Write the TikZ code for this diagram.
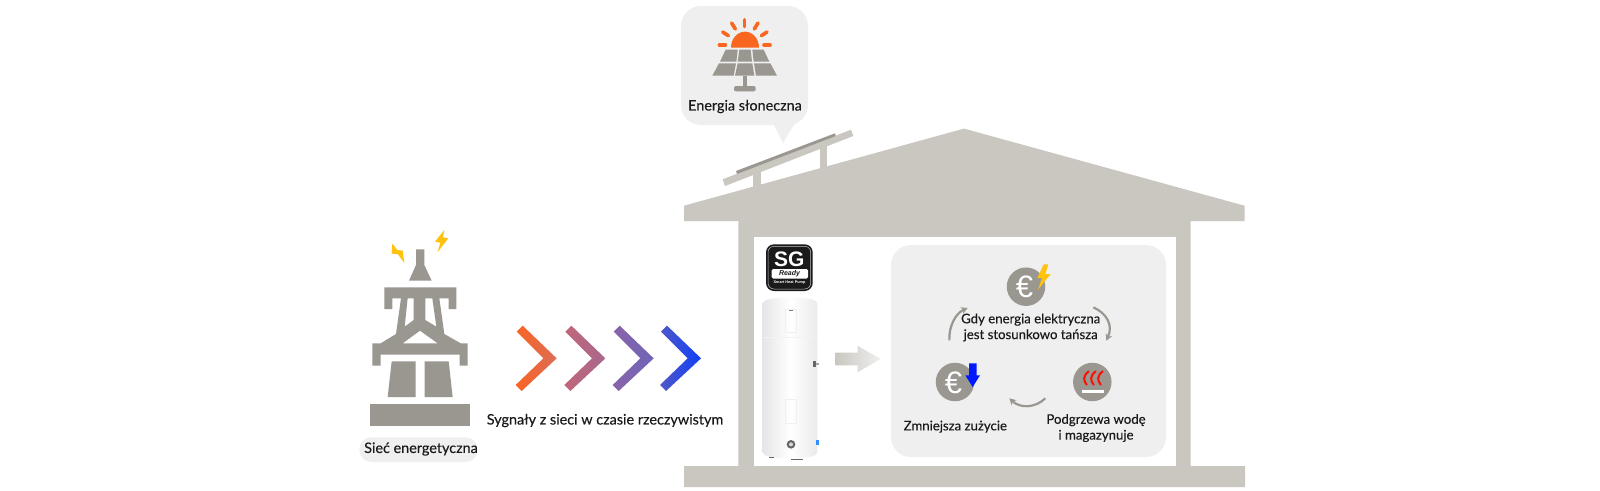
\documentclass[tikz,border=0pt]{standalone}
\usepackage{fontspec}
\setmainfont{Lato}
\newfontfamily\labelfont[FakeBold=0.25]{Lato}
\newfontfamily\heavyfont{Liberation Sans}
\usetikzlibrary{arrows.meta,calc}
\definecolor{house}{HTML}{CAC7C1}
\definecolor{metal}{HTML}{9A9791}
\definecolor{bubble}{HTML}{EFEFEF}
\definecolor{sun}{HTML}{F9661F}
\definecolor{bolt}{HTML}{FFC20E}
\definecolor{ink}{HTML}{1A1A1A}
\definecolor{chevA}{HTML}{FA6422}
\definecolor{chevB}{HTML}{DB6E58}
\definecolor{chevC}{HTML}{C0667A}
\definecolor{chevD}{HTML}{A8698C}
\definecolor{chevE}{HTML}{8A64A8}
\definecolor{chevF}{HTML}{6E64B8}
\definecolor{chevG}{HTML}{5058C8}
\definecolor{chevH}{HTML}{1040F5}
\tikzset{
  label text/.style={font=\labelfont\fontsize{14.4}{15.8}\selectfont,text=ink,align=center,inner sep=0pt},
  panel text/.style={label text,font=\labelfont\fontsize{13.2}{15.8}\selectfont},
  icon disc/.style={circle,fill=metal,minimum size=38.5pt,inner sep=0pt},
  euro sign/.style={font=\heavyfont\fontsize{31}{31}\selectfont,text=white,inner sep=0pt},
  loop arrow/.style={draw=metal,line width=2.2pt,-{Stealth[length=6.5pt,width=7pt,inset=2pt]}},
  ray/.style={draw=sun,line width=3.6pt,line cap=round},
  tiny3/.style={x=0.33333pt,y=-0.33333pt},
}
\newcommand{\chevron}[3]{%
  \path[left color=#2,right color=#3] (#1+128,47) -- (#1+230,145) -- (#1+125,243) -- (#1+107,225)
    -- (#1+190,145) -- (#1+110,65) -- cycle;}
\begin{document}
\begin{tikzpicture}[x=1pt,y=-1pt]
\useasboundingbox (0,0) rectangle (1600,490);
\fill[white] (0,0) rectangle (1600,490);

% House silhouette
\fill[house] (964,128.6) -- (1244.5,205.7) -- (1244.5,221) -- (1190.7,221) -- (1190.7,466) -- (1245,466) -- (1245,487)
  -- (684,487) -- (684,466) -- (738.3,466) -- (738.3,221) -- (684,221) -- (684,205.7) -- cycle;
\fill[white] (754,236.5) rectangle (1175.7,466);

% Roof-mounted panel frame
\fill[house] (722.7,179.3) -- (851,129.7) -- (853.3,136) -- (725,186) -- cycle;
\fill[house] (753.3,172) rectangle (761,192);
\fill[house] (820,145) rectangle (826.7,172);
\fill[metal] (736,171) -- (835,133.3) -- (835.7,136) -- (737,174) -- cycle;

% Solar speech bubble
\fill[bubble,rounded corners=20pt] (681,6) rectangle (808,125);
\fill[bubble] (773,123) -- (783,143) -- (795,123) -- cycle;
\begin{scope}[shift={(660pt,0pt)},tiny3]
  \fill[sun] (213,143) arc[start angle=180,end angle=0,x radius=42,y radius=-48] -- cycle;
  \draw[ray] (178,135) -- (196,135);
  \draw[ray] (312,135) -- (330,135);
  \draw[ray] (188,96) -- (205,107);
  \draw[ray] (321,96) -- (304,107);
  \draw[ray] (215,69) -- (226,87);
  \draw[ray] (294,69) -- (283,87);
  \draw[ray] (254,59) -- (254,80);
  \fill[metal] (197,149) -- (233,149) -- (229,185) -- (180,185) -- cycle;
  \fill[metal] (238,149) -- (272,149) -- (276,185) -- (233,185) -- cycle;
  \fill[metal] (277,149) -- (311,149) -- (328,185) -- (281,185) -- cycle;
  \fill[metal] (177,190) -- (228,190) -- (221,227) -- (157,227) -- cycle;
  \fill[metal] (233,190) -- (277,190) -- (283,227) -- (225,227) -- cycle;
  \fill[metal] (282,190) -- (331,190) -- (351,227) -- (288,227) -- cycle;
  \fill[metal] (248,227) rectangle (262,260);
  \fill[metal,rounded corners=2pt] (222,258) rectangle (287,274);
\end{scope}
\node[label text] (solar) at (745,106.5) {Energia słoneczna};

% Utility grid tower
\begin{scope}[shift={(340pt,-210pt)},tiny3]
  \fill[metal] (228,118) -- (253,118) -- (253,165) -- (275,212) -- (207,212) -- (228,165) -- cycle;
  \fill[metal,even odd rule]
    (133,232) -- (349,232) -- (349,297) -- (326,297) -- (326,265) -- (298,265) -- (313,372) -- (362,400)
    -- (383,400) -- (383,467) -- (359,467) -- (359,434) -- (122,434) -- (122,467) -- (97,467) -- (97,400)
    -- (122,400) -- (168,372) -- (183,265) -- (157,265) -- (157,297) -- (133,297) -- cycle
    (203,265) -- (221,265) -- (221,330) -- (194,350) -- cycle
    (256,265) -- (277,265) -- (289,350) -- (256,330) -- cycle
    (240,362) -- (293,400) -- (188,400) -- cycle;
  \fill[metal] (155,454) -- (227,454) -- (227,561) -- (143,561) -- cycle;
  \fill[metal] (254,454) -- (326,454) -- (338,561) -- (254,561) -- cycle;
  \fill[metal] (89,581) rectangle (391,648);
  \fill[bolt] (157,101) -- (155,131) -- (174,133) -- (193,159) -- (188,122) -- (172,120) -- cycle;
  \fill[bolt] (313,60) -- (285,95) -- (301,98) -- (293,126) -- (325,85) -- (309,82) -- cycle;
  \fill[bubble,rounded corners=12pt] (58,682) rectangle (413,756);
\end{scope}
\node[label text] (grid) at (421,449) {Sieć energetyczna};

% Signal chevrons
\begin{scope}[shift={(480pt,-310pt)},tiny3]
  \chevron{0}{chevA}{chevB}
  \chevron{146}{chevC}{chevD}
  \chevron{291}{chevE}{chevF}
  \chevron{433}{chevG}{chevH}
\end{scope}
\node[label text] (signal) at (605,420.5) {Sygnały z sieci w czasie rzeczywistym};

% SG Ready badge
\fill[ink,rounded corners=8pt] (766,244.3) rectangle (812.7,291);
\draw[white!75!black,line width=0.5pt,rounded corners=6pt] (768,246.3) rectangle (810.7,289);
\node[font=\heavyfont\fontsize{21}{21}\selectfont\bfseries,text=white,inner sep=0pt] (sg) at (789.3,259) {SG};
\fill[white,rounded corners=1.5pt] (771.5,269) rectangle (808,278.5);
\node[font=\heavyfont\fontsize{7}{7}\selectfont\bfseries\itshape,text=ink,inner sep=0pt] (ready) at (789.5,273.7) {Ready};
\node[font=\heavyfont\fontsize{3.8}{4}\selectfont\bfseries,text=white,inner sep=0pt] (pump) at (789.5,283) {Smart Heat Pump};

% Water heater
\begin{scope}[shift={(740pt,-235pt)},tiny3]
  \path[left color=black!10,right color=black!8,middle color=white]
    (68,205) .. controls (70,195) and (90,188) .. (150,188) .. controls (210,188) and (230,195) .. (232,205)
    -- (232,650) .. controls (232,660) and (220,670) .. (150,670) .. controls (80,670) and (68,660) .. (68,650) -- cycle;
  \draw[black!6,line width=0.4pt] (137,223) rectangle (168,292);
  \draw[black!6,line width=0.4pt] (137,492) rectangle (170,565);
  \draw[black!5,line width=0.3pt] (68,305) -- (232,305);
  \fill[black!50] (146,224) rectangle (158,229);
  \fill[black!60] (218,379) rectangle (228,396);
  \fill[black!35] (228,384) rectangle (237,391);
  \fill[black!60] (153,628) circle[radius=13];
  \fill[white!85!black] (153,628) circle[radius=6];
  \fill[blue!55!cyan!80!white] (229,616) rectangle (236,630);
  \fill[black!60] (88,665) rectangle (102,668);
  \fill[black!60] (153,671) rectangle (190,675);
\end{scope}

% Transfer arrow from heater to cycle panel
\path[left color=house,right color=black!6]
  (835.7,352.5) -- (857.5,352.5) -- (857.5,345.7) -- (880.7,359) -- (857.5,372.3) -- (857.5,365.3) -- (835.7,365.3) -- cycle;

% Operating cycle panel
\fill[bubble,rounded corners=20pt] (891,245) rectangle (1166,457);
\node[icon disc] (eurotop) at (1026,286.7) {};
\node[euro sign] at (1024.5,287) {€};
\begin{scope}[shift={(900pt,-250pt)},tiny3]
  \fill[bolt] (431,43) -- (412,84) -- (426,84) -- (414,119) -- (452,72) -- (436,72) -- (445,43) -- cycle;
\end{scope}
\node[panel text] (cheap) at (1030.7,327.5) {Gdy energia elektryczna\\jest stosunkowo tańsza};

\node[icon disc] (euroleft) at (955,382) {};
\node[euro sign] at (953.5,382.5) {€};
\begin{scope}[shift={(900pt,-250pt)},tiny3]
  \fill[blue!90!cyan] (207,340) -- (230,340) -- (230,376) -- (240,376) -- (218,411) -- (196,376) -- (207,376) -- cycle;
\end{scope}
\node[panel text] (saving) at (955.3,426.7) {Zmniejsza zużycie};

\node[icon disc] (heat) at (1092.3,382) {};
\begin{scope}[shift={(900pt,-250pt)},tiny3]
  \foreach \dx in {0,21,42}{
    \draw[red!90!orange,line width=2pt,line cap=round]
      (566+\dx,364) .. controls (548+\dx,378) and (550+\dx,392) .. (560+\dx,404);
  }
  \fill[white] (546,420) rectangle (611,430);
\end{scope}
\node[panel text] (store) at (1096,428) {Podgrzewa wodę\\i magazynuje};

% Cycle arrows around the three stages
\begin{scope}[shift={(900pt,-250pt)},tiny3]
  \coordinate (a1) at (148,271); \coordinate (a2) at (203,174);
  \coordinate (b1) at (580,172); \coordinate (b2) at (619,272);
  \coordinate (c1) at (436,445); \coordinate (c2) at (328,445);
  \draw[loop arrow] (a1) .. controls (146,225) and (170,188) .. (a2);
  \draw[loop arrow] (b1) .. controls (620,190) and (640,225) .. (b2);
  \draw[loop arrow] (c1) .. controls (405,475) and (360,475) .. (c2);
\end{scope}
\end{tikzpicture}
\end{document}
